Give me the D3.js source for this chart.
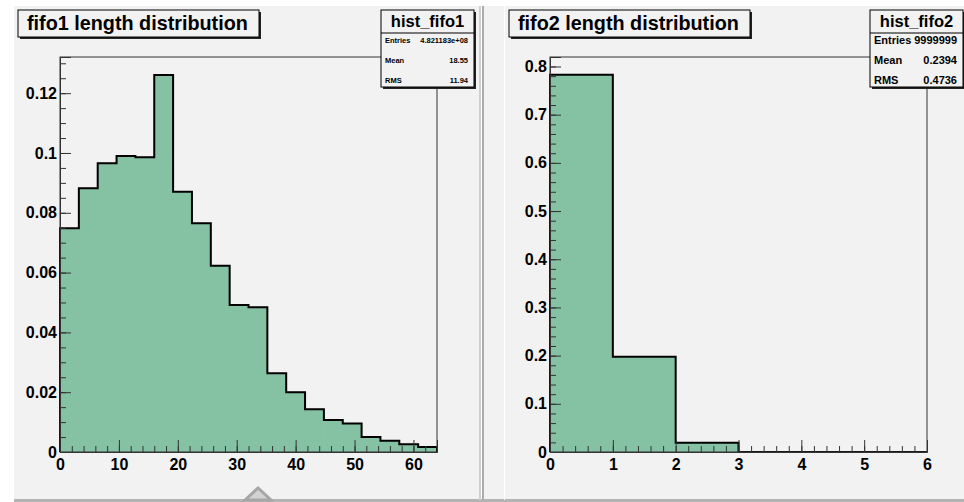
<!DOCTYPE html>
<html>
<head>
<meta charset="utf-8">
<script src="https://cdn.jsdelivr.net/npm/d3@7"></script>
<style>
  body { margin: 0; background: #fff; }
  svg text { font-family: "Liberation Sans", Arial, Helvetica, sans-serif; font-weight: bold; fill: #000; }
</style>
</head>
<body>
<div id="main-chart"></div>
<script>
// fifo1 histogram (normalised), 20 bins over [0, 64]
const fifo1Values = [0.0748, 0.0882, 0.0966, 0.0990, 0.0986, 0.1261, 0.0870, 0.0765, 0.0623, 0.0492,
                     0.0484, 0.0263, 0.0200, 0.0143, 0.0107, 0.0095, 0.0050, 0.0038, 0.0026, 0.0017];
const fifo1XRange = [0, 64];
const fifo1XTicks = [0, 10, 20, 30, 40, 50, 60];
const fifo1YTicks = [0, 0.02, 0.04, 0.06, 0.08, 0.1, 0.12];
const fifo1Stats = [['Entries', '4.821183e+08'], ['Mean', '18.55'], ['RMS', '11.94']];

// fifo2 histogram (normalised), 6 bins over [0, 6]
const fifo2Values = [0.783, 0.1977, 0.0193, 0, 0, 0];
const fifo2XRange = [0, 6];
const fifo2XTicks = [0, 1, 2, 3, 4, 5, 6];
const fifo2YTicks = [0, 0.1, 0.2, 0.3, 0.4, 0.5, 0.6, 0.7, 0.8];
const fifo2Stats = [['Entries', '9999999'], ['Mean', '0.2394'], ['RMS', '0.4736']];

const W = 964, H = 502;
const fillColor = '#85c1a3', padColor = '#f2f2f2';

let svg = d3.select('#main-chart')
            .append('svg')
            .attr('width', W)
            .attr('height', H);

// pad backgrounds + bevel edges
svg.append('rect').attr('x', 14).attr('y', 6).attr('width', 467).attr('height', 494).attr('fill', padColor);
svg.append('rect').attr('x', 484).attr('y', 6).attr('width', 480).attr('height', 494).attr('fill', padColor);
svg.append('rect').attr('x', 14).attr('y', 499).attr('width', W - 14).attr('height', 3).attr('fill', '#b4b4b4');
svg.append('rect').attr('x', 479).attr('y', 6).attr('width', 2).attr('height', 494).attr('fill', '#cfcfcf');
svg.append('rect').attr('x', 482).attr('y', 6).attr('width', 2).attr('height', 494).attr('fill', '#ababab');
svg.append('rect').attr('x', 504).attr('y', 6).attr('width', 1).attr('height', 494).attr('fill', '#ffffff');

// the little marker at the bottom of the left pad
svg.append('polygon')
   .attr('points', '245,500 258,488 271,500')
   .attr('fill', '#d2d2d2')
   .attr('stroke', '#a6a6a6')
   .attr('stroke-width', 3);

function fmt(d){
  return String(+d.toFixed(3));
}

function drawPanel(p){
  let g = svg.append('g');

  let x = d3.scaleLinear().domain(p.xRange).range([p.left, p.right]);
  let y = d3.scaleLinear().domain([0, p.yMax]).range([p.bottom, p.top]);
  let bw = (p.xRange[1] - p.xRange[0]) / p.values.length;

  // bars
  g.selectAll('.bar')
   .data(p.values)
   .join('rect')
   .attr('class', 'bar')
   .attr('x', (d, i) => x(p.xRange[0] + i * bw))
   .attr('y', d => y(d))
   .attr('width', x(bw) - x(0))
   .attr('height', d => y(0) - y(d))
   .attr('fill', fillColor)
   .attr('stroke', fillColor)
   .attr('stroke-width', 0.8);

  // step outline
  let pts = [[p.xRange[0], 0]];
  p.values.forEach((v, i) => {
    pts.push([p.xRange[0] + i * bw, v]);
    pts.push([p.xRange[0] + (i + 1) * bw, v]);
  });
  pts.push([p.xRange[1], 0]);
  g.append('path')
   .attr('d', d3.line().x(d => x(d[0])).y(d => y(d[1]))(pts))
   .attr('fill', 'none')
   .attr('stroke', '#000')
   .attr('stroke-width', 2)
   .attr('stroke-linejoin', 'miter');

  // frame
  g.append('rect')
   .attr('x', p.left).attr('y', p.top)
   .attr('width', p.right - p.left).attr('height', p.bottom - p.top)
   .attr('fill', 'none').attr('stroke', '#333').attr('stroke-width', 1);

  // minor ticks
  let xMinor = d3.range(p.xRange[0], p.xRange[1] + 1e-9, p.xMinor);
  let yMinor = d3.range(0, p.yMax + 1e-9, p.yMinor);
  g.append('g')
   .attr('transform', `translate(0,${p.bottom})`)
   .call(d3.axisBottom(x).tickValues(xMinor).tickSize(-6).tickFormat(''))
   .call(a => a.select('.domain').remove());
  g.append('g')
   .attr('transform', `translate(${p.left},0)`)
   .call(d3.axisLeft(y).tickValues(yMinor).tickSize(-6).tickFormat(''))
   .call(a => a.select('.domain').remove());

  // major ticks + labels
  let xa = g.append('g')
   .attr('transform', `translate(0,${p.bottom})`)
   .call(d3.axisBottom(x).tickValues(p.xTicks).tickSize(-12).tickPadding(7).tickFormat(fmt));
  let ya = g.append('g')
   .attr('transform', `translate(${p.left},0)`)
   .call(d3.axisLeft(y).tickValues(p.yTicks).tickSize(-11).tickPadding(3).tickFormat(fmt));
  [xa, ya].forEach(a => {
    a.select('.domain').attr('stroke', '#333');
    a.selectAll('text').style('font-size', '16px').attr('font-family', null);
  });
  g.selectAll('.tick line').attr('stroke', '#333');

  // title box
  g.append('rect').attr('x', p.titleX + 2).attr('y', 12).attr('width', p.titleW).attr('height', 27).attr('fill', '#222');
  g.append('rect').attr('x', p.titleX).attr('y', 10).attr('width', p.titleW).attr('height', 27)
   .attr('fill', padColor).attr('stroke', '#000').attr('stroke-width', 1);
  g.append('text').attr('x', p.titleX + 9).attr('y', 30)
   .style('font-size', '19.8px').text(p.title);

  // stats box
  g.append('rect').attr('x', p.statX + 2).attr('y', 12).attr('width', p.statW).attr('height', 77).attr('fill', '#222');
  g.append('rect').attr('x', p.statX).attr('y', 10).attr('width', p.statW).attr('height', 77)
   .attr('fill', padColor).attr('stroke', '#000').attr('stroke-width', 1);
  g.append('line').attr('x1', p.statX).attr('x2', p.statX + p.statW).attr('y1', 33).attr('y2', 33).attr('stroke', '#000');
  g.append('text').attr('x', p.statX + p.statW / 2).attr('y', 27)
   .attr('text-anchor', 'middle').style('font-size', '16.5px').text(p.name);
  p.stats.forEach((s, i) => {
    g.append('text').attr('x', p.statX + 4).attr('y', 43 + i * 20 + p.statDy)
     .style('font-size', p.statFont).text(s[0]);
    g.append('text').attr('x', p.statX + p.statW - 6).attr('y', 43 + i * 20 + p.statDy)
     .attr('text-anchor', 'end').style('font-size', p.statFont).text(s[1]);
  });
}

drawPanel({
  values: fifo1Values, xRange: fifo1XRange, xTicks: fifo1XTicks, yTicks: fifo1YTicks,
  xMinor: 2, yMinor: 0.005, yMax: 0.1321,
  left: 60, right: 437, top: 57, bottom: 452,
  title: 'fifo1 length distribution', titleX: 18, titleW: 241,
  name: 'hist_fifo1', stats: fifo1Stats, statX: 381, statW: 93, statFont: '7.5px', statDy: 0
});

drawPanel({
  values: fifo2Values, xRange: fifo2XRange, xTicks: fifo2XTicks, yTicks: fifo2YTicks,
  xMinor: 0.2, yMinor: 0.02, yMax: 0.8197,
  left: 550, right: 927, top: 57, bottom: 452,
  title: 'fifo2 length distribution', titleX: 509, titleW: 241,
  name: 'hist_fifo2', stats: fifo2Stats, statX: 870, statW: 93, statFont: '11px', statDy: 1
});
</script>
</body>
</html>
